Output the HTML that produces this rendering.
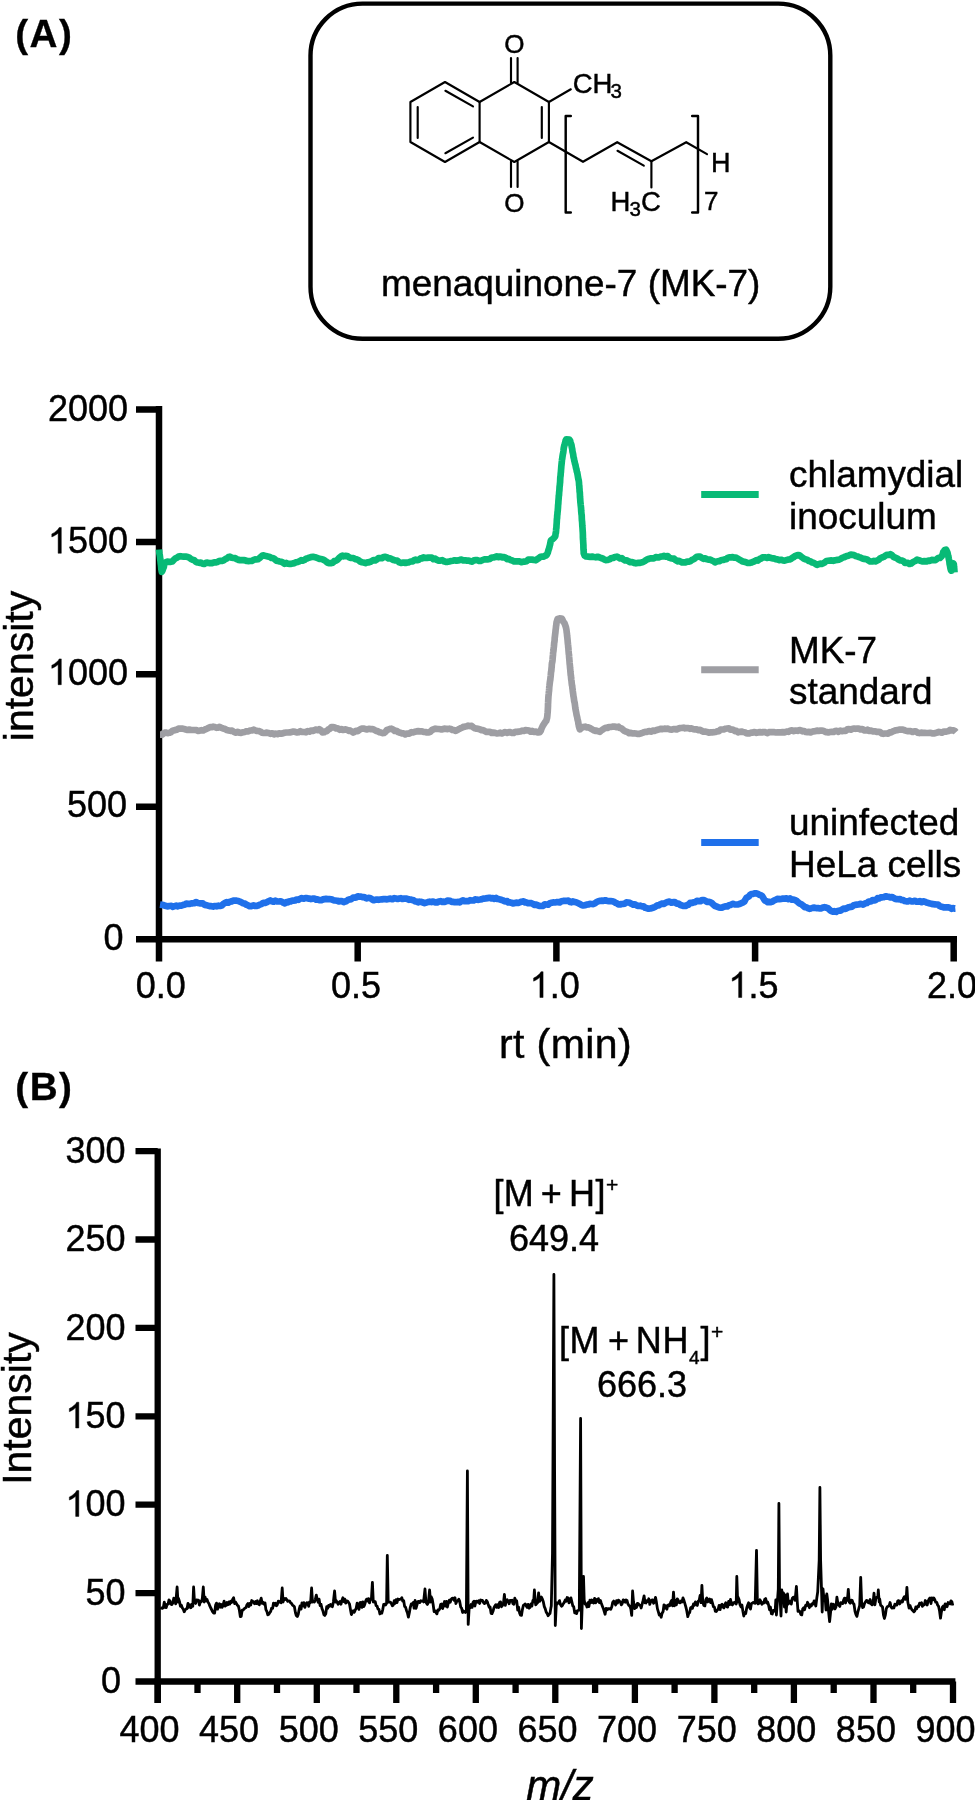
<!DOCTYPE html>
<html><head><meta charset="utf-8">
<style>
html,body{margin:0;padding:0;background:#fff;width:975px;height:1800px;overflow:hidden}
svg{display:block}
text{font-family:"Liberation Sans",sans-serif;fill:#000;stroke:#000;stroke-width:0.45px}
text.b{stroke-width:0.3px}
tspan.h{fill:none;stroke:none}
path.one{fill:#000;stroke:#000;stroke-width:0.45px}
svg{will-change:transform}

</style></head>
<body>
<svg width="975" height="1800" viewBox="0 0 975 1800">
<rect x="0" y="0" width="975" height="1800" fill="#fff"/>
<text class="b" id="tA" x="15.2" y="46.9" font-size="38.7" font-weight="bold" letter-spacing="1.5">(A)</text>
<rect x="310.5" y="3.6" width="519.8" height="335.1" rx="52" ry="52" fill="none" stroke="#000" stroke-width="4.4"/>
<g stroke="#000" stroke-width="2.15" fill="none" stroke-linecap="round" stroke-linejoin="round">
<path d="M445,82 L479.6,102 L479.6,142 L445,162 L410.4,142 L410.4,102 Z"/>
<path d="M479.6,102 L514.3,82 L548.9,102 L548.9,142 L514.3,162 L479.6,142"/>
<path d="M417.7,107 L417.7,138"/>
<path d="M445.4,90.8 L473,106.4"/>
<path d="M445.4,153.2 L473,137.6"/>
<path d="M541.8,107 L541.8,138"/>
<path d="M511,82.5 L511,58 M517.6,82.5 L517.6,58"/>
<path d="M511,161.5 L511,187 M517.6,161.5 L517.6,187"/>
<path d="M548.9,102 L570.8,89.3"/>
<path d="M548.9,142 L583,161.8 L617.2,142.2 L651.4,161.3 L686.2,142.2 L707,154.1"/>
<path d="M617.5,150.8 L643.8,165.6"/>
<path d="M651.4,161.3 L651.4,187.4"/>
<path stroke-width="2.45" d="M570.8,116 L565.7,116 L565.7,212.4 L570.8,212.4 M692.2,116 L698,116 L698,212.4 L692.2,212.4"/>
</g>
<g font-size="26">
<text id="tO1" x="514.3" y="52.5" text-anchor="middle">O</text>
<text id="tO2" x="514.3" y="211.5" text-anchor="middle">O</text>
<text id="tCH" x="572.7" y="93" font-size="27.5">CH</text>
<text id="tCH3" x="610.5" y="98" font-size="20.5">3</text>
<text id="tH3C1" x="610.5" y="211.2" font-size="27.5">H</text>
<text id="tH3C2" x="629.5" y="216.4" font-size="20.5">3</text>
<text id="tH3C3" x="641" y="211.2" font-size="27.5">C</text>
<text id="tH" x="711" y="172.4" font-size="27">H</text>
<text id="t7" x="704" y="209.7" font-size="26">7</text>
</g>
<text id="tmena" x="381" y="296.2" font-size="36.9">menaquinone-7 (MK-7)</text>

<g stroke="#000" stroke-width="6.5" fill="none" stroke-linecap="butt">
<path d="M159,406.1 L159,961.5"/>
<path d="M155.75,939.2 L957,939.2"/>
<path d="M136,409.4 L159,409.4 M136,541.9 L159,541.9 M136,674.3 L159,674.3 M136,806.8 L159,806.8 M136,939.2 L159,939.2"/>
<path d="M357.7,939.2 L357.7,961.5 M556.4,939.2 L556.4,961.5 M755.1,939.2 L755.1,961.5 M953.7,936 L953.7,961.5"/>
</g>
<g font-size="36" text-anchor="end">
<text id="y2000" x="128" y="420.5">2000</text>
<text id="y1500" x="128" y="553.3"><tspan class="h">1</tspan>500</text>
<text id="y1000" x="128" y="684.7"><tspan class="h">1</tspan>000</text>
<text id="y500" x="127" y="817.2">500</text>
<text id="y0" x="123.5" y="950">0</text>
</g>
<g font-size="36" text-anchor="middle">
<text id="x00" x="160.7" y="997.5">0.0</text>
<text id="x05" x="356" y="997.5">0.5</text>
<text id="x10" x="554.7" y="997.5"><tspan class="h">1</tspan>.0</text>
<text id="x15" x="753.4" y="997.5"><tspan class="h">1</tspan>.5</text>
<text id="x20" x="952" y="997.5">2.0</text>
</g>
<text id="trt" x="565.5" y="1057.6" font-size="41" letter-spacing="0.4" text-anchor="middle">rt (min)</text>
<text id="tint" transform="translate(32.5,666) rotate(-90)" font-size="41" text-anchor="middle">intensity</text>

<g fill="none" stroke-width="6.7" stroke-linejoin="round" stroke-linecap="butt">
<path d="M159.0,549.5 L159.2,551.5 L159.4,553.4 L159.7,554.7 L160.0,556.9 L160.2,559.0 L160.5,561.2 L160.7,563.4 L160.9,564.6 L161.1,566.3 L161.3,569.3 L161.6,570.5 L161.8,571.9 L162.6,570.2 L163.5,567.7 L163.9,566.7 L164.2,564.3 L164.7,563.5 L165.3,562.6 L167.1,561.7 L169.4,561.9 L170.8,561.8 L172.3,561.5 L173.9,559.7 L175.5,558.3 L177.0,557.7 L178.6,556.6 L180.2,556.2 L181.7,556.4 L183.7,556.6 L185.6,556.6 L187.8,557.1 L189.3,557.7 L190.9,559.0 L192.6,559.8 L194.3,560.2 L196.0,562.0 L197.6,562.4 L199.3,562.9 L200.9,562.6 L202.6,563.7 L204.2,564.0 L205.8,562.9 L207.5,562.7 L209.1,563.1 L210.8,563.0 L212.4,563.2 L214.0,562.3 L215.6,562.5 L217.2,562.1 L218.9,561.1 L220.6,560.9 L222.1,560.9 L223.7,560.3 L225.3,559.1 L226.9,558.4 L228.5,557.0 L229.9,556.7 L231.8,557.7 L233.5,558.0 L235.2,558.2 L237.0,559.2 L238.6,559.9 L240.2,560.2 L241.9,560.0 L243.6,560.1 L245.3,560.4 L246.9,561.0 L248.5,561.1 L250.1,561.0 L251.7,561.0 L253.5,560.1 L254.9,559.4 L256.4,559.5 L257.9,559.3 L259.5,558.1 L261.0,556.8 L262.4,555.6 L263.7,555.4 L266.0,556.1 L267.8,556.5 L269.9,557.0 L271.4,558.0 L273.0,558.0 L274.7,559.1 L276.3,560.7 L278.0,561.1 L279.6,561.5 L281.3,561.8 L283.0,562.6 L284.6,563.8 L286.3,562.9 L287.9,563.7 L289.6,563.9 L291.2,563.8 L292.9,563.4 L294.5,563.1 L296.1,562.3 L297.8,561.9 L299.4,561.3 L301.1,560.2 L302.7,560.7 L304.4,560.0 L306.1,558.7 L307.8,558.2 L309.4,557.6 L310.9,557.1 L313.1,556.8 L315.0,557.2 L317.0,557.9 L318.5,558.5 L320.0,559.0 L321.5,559.0 L323.2,559.7 L324.6,560.3 L326.1,561.5 L327.7,562.7 L329.5,563.2 L331.4,563.1 L332.8,562.7 L334.3,561.1 L335.9,560.8 L337.6,559.7 L339.2,557.8 L340.8,556.5 L342.3,555.7 L343.7,556.3 L345.7,555.9 L347.5,556.0 L349.2,557.4 L350.6,557.9 L351.9,558.0 L353.5,558.1 L355.3,559.1 L356.6,559.3 L358.3,560.0 L360.1,561.6 L362.0,562.2 L363.8,562.6 L365.5,563.1 L367.3,562.4 L368.9,562.3 L370.5,561.8 L372.1,560.9 L373.7,560.0 L375.3,560.5 L376.9,559.5 L378.5,558.2 L380.1,558.1 L381.9,558.2 L383.5,557.1 L385.1,556.9 L386.9,557.2 L388.6,558.5 L390.4,558.4 L392.2,559.4 L393.8,560.1 L395.4,560.5 L397.1,560.6 L398.8,562.1 L400.4,562.8 L402.0,562.8 L403.5,562.5 L405.4,563.0 L407.2,562.5 L408.9,562.3 L410.7,561.5 L412.7,561.3 L414.1,560.2 L415.6,559.7 L417.2,560.2 L418.8,559.8 L420.4,558.4 L422.0,558.4 L423.5,557.4 L425.0,557.9 L426.8,557.9 L428.5,557.6 L430.1,557.6 L431.8,557.6 L433.5,559.2 L435.3,558.7 L437.0,559.9 L438.7,560.7 L440.4,560.6 L442.2,560.2 L444.0,561.3 L445.8,561.9 L447.6,561.8 L449.4,561.4 L451.1,561.0 L452.9,560.7 L454.6,560.3 L456.4,560.7 L458.1,560.4 L459.9,559.9 L461.7,559.6 L463.4,560.5 L465.2,560.3 L466.9,560.6 L468.7,560.5 L470.4,561.3 L472.2,561.6 L474.0,560.3 L475.7,560.1 L477.5,560.1 L479.2,561.0 L481.0,560.8 L482.7,560.0 L484.5,559.3 L486.3,559.4 L488.1,559.3 L489.9,558.9 L491.7,557.5 L493.4,557.5 L495.2,557.0 L496.8,556.4 L498.6,557.1 L500.3,556.5 L501.9,557.4 L503.5,557.1 L505.2,557.5 L507.0,559.1 L508.7,558.9 L510.4,560.0 L512.3,560.5 L514.1,561.4 L516.0,561.3 L517.7,561.4 L519.4,561.4 L521.3,562.1 L523.2,561.7 L525.0,561.6 L526.7,561.2 L528.2,559.7 L529.6,559.7 L531.6,559.5 L533.0,559.9 L534.4,560.0 L535.9,560.3 L537.3,559.1 L538.9,558.1 L540.4,556.9 L542.1,556.7 L543.8,556.6 L545.1,555.7 L546.6,555.2 L547.8,552.6 L548.2,551.0 L548.6,549.6 L549.0,548.7 L549.5,546.6 L549.9,545.2 L550.4,542.8 L550.8,540.7 L551.3,540.0 L552.7,539.1 L554.1,537.8 L555.3,536.2 L555.5,534.4 L555.7,533.0 L555.9,532.6 L556.1,530.2 L556.2,528.5 L556.4,527.9 L556.5,525.6 L556.7,523.1 L556.8,521.0 L556.9,519.1 L557.1,517.9 L557.2,515.3 L557.4,514.3 L557.5,512.3 L557.7,511.4 L557.8,509.9 L558.0,507.3 L558.1,505.2 L558.3,503.6 L558.4,501.4 L558.5,500.2 L558.7,497.8 L558.8,495.7 L559.0,495.4 L559.1,493.1 L559.2,491.8 L559.4,490.1 L559.5,488.3 L559.6,486.4 L559.8,485.4 L559.9,483.9 L560.1,482.2 L560.2,479.3 L560.3,477.3 L560.5,476.2 L560.6,475.4 L560.7,473.4 L560.9,472.0 L561.0,470.4 L561.2,468.0 L561.3,466.5 L561.5,464.6 L561.7,462.7 L561.9,460.8 L562.0,459.4 L562.2,459.0 L562.4,457.1 L562.6,455.9 L562.9,454.1 L563.2,452.8 L563.5,450.4 L563.7,448.4 L564.0,446.8 L564.3,445.3 L564.6,444.9 L565.1,442.9 L565.6,440.6 L566.2,439.3 L569.4,439.6 L570.1,440.8 L570.6,442.5 L571.2,444.3 L571.5,445.3 L571.8,447.2 L572.2,448.9 L572.5,451.6 L572.9,453.1 L573.2,454.7 L573.5,457.1 L573.9,458.3 L574.2,460.4 L574.6,461.6 L575.0,463.7 L575.4,464.7 L575.7,466.3 L576.1,468.3 L576.4,468.9 L576.8,471.5 L577.2,472.4 L577.6,474.7 L578.0,477.1 L578.3,478.9 L578.6,480.0 L578.8,480.9 L579.0,482.8 L579.1,485.1 L579.3,486.0 L579.4,488.3 L579.5,489.0 L579.6,491.6 L579.8,492.2 L579.9,494.1 L580.0,496.8 L580.2,498.8 L580.3,500.8 L580.4,502.3 L580.6,503.7 L580.7,505.1 L580.8,505.9 L581.0,507.6 L581.1,508.9 L581.2,511.2 L581.4,513.1 L581.5,514.2 L581.7,515.4 L581.8,518.4 L581.9,520.3 L582.1,521.7 L582.2,523.4 L582.3,525.6 L582.4,526.7 L582.5,528.1 L582.6,529.6 L582.7,531.2 L582.8,532.6 L582.9,535.2 L582.9,537.0 L583.0,539.1 L583.1,540.2 L583.2,542.2 L583.3,543.7 L583.4,545.3 L583.4,547.0 L583.5,549.4 L583.6,550.5 L583.7,551.6 L583.7,553.0 L583.8,553.5 L584.7,555.7 L586.1,556.5 L588.1,556.6 L590.2,556.8 L592.2,556.6 L594.0,557.0 L595.8,557.3 L597.6,556.8 L599.3,557.3 L601.0,558.0 L602.6,558.5 L604.2,559.4 L605.6,560.1 L607.7,560.0 L610.0,559.1 L611.4,558.0 L613.1,558.0 L614.9,557.0 L616.8,556.7 L618.5,557.4 L620.1,558.5 L621.8,558.2 L623.4,559.5 L625.0,560.5 L626.7,560.4 L628.5,561.2 L630.3,562.2 L632.2,562.2 L634.0,562.9 L635.9,563.3 L637.7,562.9 L639.4,562.9 L641.2,562.5 L643.1,562.0 L645.1,560.8 L646.7,559.6 L648.4,559.0 L650.3,558.4 L652.1,558.4 L653.9,558.4 L655.7,557.1 L657.4,557.4 L659.2,557.3 L660.8,556.6 L662.4,556.5 L664.0,555.9 L665.8,556.6 L667.7,556.1 L669.1,557.6 L670.7,558.2 L672.4,558.6 L674.1,558.7 L675.8,560.2 L677.5,561.3 L679.1,560.8 L680.7,561.8 L682.0,562.4 L684.0,562.4 L685.8,562.3 L687.3,561.5 L688.7,561.6 L690.3,561.3 L691.9,559.9 L693.5,559.4 L695.1,558.2 L696.7,556.9 L698.5,556.7 L700.1,556.5 L701.8,557.9 L703.6,558.9 L705.4,558.3 L707.1,559.3 L708.7,559.6 L710.4,559.7 L711.9,560.5 L713.4,561.1 L715.0,562.3 L716.9,561.5 L718.3,561.2 L719.8,561.1 L721.4,560.0 L723.0,560.0 L724.7,559.4 L726.3,559.2 L727.8,557.8 L729.2,557.3 L731.1,557.4 L732.7,557.0 L734.2,557.6 L735.7,557.5 L737.4,558.4 L739.0,559.3 L740.7,560.3 L742.4,561.4 L744.2,561.7 L746.0,562.2 L747.7,563.0 L749.5,563.0 L751.3,562.6 L753.1,561.8 L754.8,561.1 L756.4,560.2 L757.9,560.6 L759.7,559.0 L761.1,558.5 L762.5,557.4 L764.1,557.4 L765.5,557.3 L767.0,557.9 L768.6,557.1 L770.4,557.8 L772.3,558.4 L773.9,558.4 L775.6,559.1 L777.4,559.4 L779.3,560.1 L781.1,559.8 L782.9,560.4 L784.6,560.6 L786.2,560.1 L787.9,559.6 L789.6,559.5 L791.1,558.7 L792.6,557.6 L793.8,557.1 L794.9,556.2 L797.6,555.1 L798.8,555.1 L800.2,555.8 L801.8,557.1 L803.5,558.4 L805.3,559.3 L807.1,559.7 L808.6,560.9 L810.3,561.2 L812.0,562.4 L813.6,562.7 L815.3,563.8 L817.0,564.8 L818.5,564.2 L820.2,563.7 L821.8,563.8 L823.4,563.2 L824.9,562.3 L826.4,561.0 L828.0,560.8 L829.8,560.6 L831.5,560.4 L833.2,560.8 L835.2,560.2 L837.4,559.9 L838.8,559.7 L840.4,559.0 L842.0,557.9 L843.7,557.4 L845.4,556.6 L847.2,555.9 L849.0,555.4 L850.8,554.7 L852.6,554.9 L854.1,555.1 L855.7,556.0 L857.4,556.4 L859.1,557.1 L860.8,557.7 L862.5,558.5 L864.1,558.9 L865.7,559.1 L867.1,559.5 L868.5,560.5 L869.7,561.3 L872.2,561.5 L873.9,560.9 L875.4,561.4 L877.3,560.5 L878.7,559.8 L880.3,558.2 L881.9,557.5 L883.6,556.9 L885.3,555.7 L887.0,554.8 L888.7,554.9 L890.3,554.2 L892.0,555.2 L893.6,556.9 L895.3,557.7 L896.9,558.3 L898.5,559.5 L900.0,560.3 L901.7,560.5 L903.4,561.1 L905.0,562.9 L906.5,562.9 L908.0,562.9 L909.5,564.0 L911.1,563.6 L912.6,562.4 L914.0,561.5 L915.5,560.9 L917.1,559.6 L918.8,560.1 L920.6,560.8 L922.4,561.5 L924.4,561.1 L926.6,561.4 L928.1,560.7 L929.9,560.8 L931.7,559.9 L933.5,560.2 L935.4,560.1 L937.1,558.8 L938.6,557.8 L939.9,558.0 L941.4,556.6 L942.5,554.9 L943.3,551.9 L943.9,551.2 L944.6,550.2 L946.1,549.6 L947.5,552.6 L947.8,554.3 L948.2,556.0 L948.5,557.0 L948.9,559.4 L949.3,560.9 L949.6,564.0 L950.0,565.6 L950.4,568.0 L950.7,569.4 L951.0,570.4 L951.3,570.6 L952.0,570.3 L952.6,567.2 L953.1,564.1 L953.5,563.6 L953.8,564.1 L954.0,566.5 L954.2,568.2 L954.4,570.8 L954.5,572.4" stroke="#08ba76"/>
<path d="M160.0,734.7 L162.2,734.7 L163.7,733.2 L165.6,732.5 L167.6,733.1 L169.4,732.8 L170.9,732.2 L172.3,730.9 L173.7,730.4 L175.5,729.9 L177.0,729.6 L178.5,728.7 L180.3,728.6 L182.1,728.5 L183.9,728.9 L185.8,729.5 L187.5,729.9 L189.2,729.7 L191.0,729.9 L192.9,730.0 L194.7,730.0 L196.4,730.1 L198.1,730.8 L199.9,730.6 L201.6,730.2 L203.3,730.5 L204.9,729.5 L206.6,728.9 L208.3,728.0 L209.9,727.2 L211.5,727.2 L213.2,726.7 L214.8,727.0 L216.5,727.8 L218.1,727.6 L219.6,726.8 L221.5,727.9 L223.3,728.5 L225.0,729.0 L226.8,729.9 L228.8,730.4 L230.4,730.8 L232.1,730.6 L233.9,731.9 L235.7,732.6 L237.6,731.8 L239.4,732.6 L241.2,732.8 L243.0,732.3 L244.8,731.9 L246.6,731.3 L248.4,731.4 L250.1,730.5 L251.9,730.4 L253.5,729.7 L255.3,730.4 L257.1,731.0 L258.7,731.0 L260.4,731.6 L262.0,732.7 L263.7,733.0 L265.4,732.9 L267.1,732.7 L268.7,733.0 L270.4,733.8 L272.2,733.3 L274.0,734.3 L275.7,733.6 L277.4,734.1 L279.1,733.3 L280.9,733.7 L282.7,733.4 L284.5,732.8 L286.3,732.5 L288.1,732.5 L289.8,732.4 L291.6,731.9 L293.3,731.5 L295.1,731.8 L296.8,732.5 L298.6,732.2 L300.4,731.2 L302.2,732.0 L304.1,732.0 L305.9,732.3 L307.7,731.2 L309.4,731.6 L310.9,730.6 L312.9,730.9 L314.6,730.1 L316.2,729.5 L317.7,730.1 L319.1,729.2 L321.0,730.4 L322.5,732.4 L324.2,732.2 L325.5,731.3 L326.9,731.1 L328.3,729.5 L329.9,728.7 L331.4,727.1 L332.9,727.2 L334.5,727.3 L336.1,728.4 L337.8,728.3 L339.6,729.8 L341.3,729.0 L343.1,730.0 L345.1,729.4 L346.9,729.7 L348.6,730.8 L349.9,730.4 L351.5,731.3 L353.2,732.5 L354.5,731.9 L356.0,730.8 L357.8,731.2 L359.7,729.7 L361.6,728.6 L363.5,728.6 L365.2,729.0 L367.0,729.5 L368.8,728.8 L370.7,729.1 L372.5,729.0 L374.2,729.8 L375.8,730.7 L377.7,731.3 L379.5,732.2 L381.1,732.6 L382.6,733.1 L384.0,733.0 L385.5,731.9 L386.7,730.2 L388.1,729.6 L390.1,728.9 L391.4,728.7 L393.0,729.5 L394.7,731.0 L396.5,730.9 L398.3,732.1 L400.1,732.7 L401.9,733.4 L403.5,733.3 L405.2,734.4 L406.8,733.6 L408.4,733.7 L409.9,733.2 L411.5,732.2 L413.1,732.4 L414.7,731.8 L416.4,731.4 L418.3,731.2 L420.1,731.3 L422.0,731.3 L423.7,732.0 L425.4,732.0 L427.0,732.5 L428.9,732.3 L430.4,731.8 L431.9,730.1 L433.4,729.4 L435.3,728.7 L436.9,728.9 L438.6,729.0 L440.5,729.3 L442.4,729.3 L444.3,728.7 L446.0,728.8 L447.6,729.1 L449.4,728.7 L451.0,729.0 L452.4,730.0 L454.0,730.1 L455.8,730.9 L457.2,730.1 L458.6,729.2 L460.2,728.4 L461.8,727.7 L463.5,726.9 L465.1,726.6 L466.6,726.2 L468.1,725.7 L469.9,726.1 L471.7,725.9 L473.3,727.3 L475.0,728.3 L476.6,728.7 L478.3,728.8 L479.9,729.4 L481.5,730.1 L483.1,730.1 L484.7,731.0 L486.5,731.9 L488.6,731.9 L490.0,731.8 L491.6,732.9 L493.3,732.6 L495.0,732.8 L496.8,733.5 L498.6,733.2 L500.3,732.7 L502.0,733.5 L503.6,732.8 L505.0,732.1 L507.1,732.8 L508.9,732.2 L510.5,732.2 L512.1,733.0 L513.7,732.9 L515.3,731.8 L517.0,731.9 L518.8,731.6 L520.5,731.4 L522.3,730.7 L523.9,730.9 L525.5,730.1 L527.3,730.3 L529.0,730.6 L530.6,731.7 L532.1,730.9 L533.6,731.8 L536.0,731.7 L538.1,732.5 L539.8,732.2 L540.8,730.7 L541.6,728.3 L542.3,726.8 L543.2,725.1 L544.2,723.6 L545.3,721.9 L546.2,721.0 L546.9,718.5 L547.1,717.8 L547.3,716.2 L547.5,713.8 L547.6,712.9 L547.7,711.7 L547.8,710.1 L547.9,708.1 L548.0,706.1 L548.0,704.3 L548.1,703.0 L548.2,700.6 L548.3,698.9 L548.4,697.0 L548.5,695.8 L548.7,694.0 L548.8,692.7 L549.0,691.1 L549.2,688.7 L549.3,686.7 L549.5,685.4 L549.7,683.5 L549.9,682.0 L550.1,680.7 L550.3,679.6 L550.5,677.5 L550.7,676.1 L550.9,673.4 L551.1,671.7 L551.3,671.0 L551.5,668.4 L551.7,666.8 L551.8,664.7 L552.0,662.9 L552.2,662.5 L552.4,661.3 L552.6,659.3 L552.8,656.6 L553.0,654.8 L553.1,652.9 L553.3,651.7 L553.5,650.2 L553.7,648.1 L553.9,646.4 L554.1,644.1 L554.2,642.8 L554.4,641.9 L554.6,640.3 L554.7,637.8 L554.9,636.7 L555.0,635.7 L555.2,633.9 L555.3,633.5 L555.6,630.1 L555.9,628.0 L556.1,625.8 L556.3,625.1 L556.4,623.8 L556.6,622.3 L557.6,618.9 L559.5,618.4 L561.8,618.5 L562.6,620.1 L563.5,622.1 L564.4,622.9 L565.1,624.9 L565.8,626.9 L566.1,628.1 L566.4,629.6 L566.6,631.2 L566.7,632.3 L566.9,633.4 L567.1,635.8 L567.3,637.3 L567.6,640.4 L567.7,641.5 L567.8,642.9 L568.0,644.5 L568.1,645.1 L568.2,646.9 L568.4,648.2 L568.5,650.2 L568.7,652.5 L568.8,653.9 L569.0,654.6 L569.1,656.7 L569.3,659.0 L569.5,661.2 L569.6,662.8 L569.8,664.8 L569.9,665.4 L570.1,668.2 L570.3,669.9 L570.4,671.4 L570.6,673.3 L570.7,675.0 L570.9,675.3 L571.1,677.9 L571.3,679.9 L571.5,680.9 L571.7,683.2 L571.9,684.9 L572.2,686.0 L572.4,688.3 L572.6,689.2 L572.8,691.2 L573.0,692.7 L573.2,694.0 L573.4,695.9 L573.7,697.4 L573.9,698.6 L574.2,701.2 L574.4,701.7 L574.7,703.0 L575.0,705.4 L575.3,707.9 L575.6,709.7 L576.0,711.7 L576.3,713.2 L576.6,715.1 L577.0,716.4 L577.3,717.9 L577.6,719.7 L577.9,720.6 L578.2,721.9 L578.5,724.2 L578.7,724.8 L578.9,726.4 L579.8,729.4 L581.2,728.2 L583.0,727.1 L585.1,726.7 L586.8,727.4 L588.6,727.4 L590.4,728.3 L592.2,729.4 L593.8,730.3 L595.3,730.8 L596.8,730.7 L598.4,731.4 L599.8,731.8 L601.2,730.5 L602.7,729.6 L604.2,728.5 L605.6,727.9 L607.3,728.0 L609.0,727.0 L610.7,727.0 L612.3,726.7 L614.2,726.6 L616.0,727.1 L618.5,726.7 L619.7,728.0 L621.1,728.2 L622.6,729.4 L624.1,730.7 L625.8,731.6 L627.4,732.0 L629.1,733.2 L630.8,732.8 L632.5,733.5 L634.2,733.4 L636.0,733.5 L637.8,733.9 L639.6,733.8 L641.5,733.3 L643.3,732.5 L645.1,731.9 L646.7,732.0 L648.2,731.4 L649.7,731.1 L651.3,731.7 L652.8,730.5 L654.4,730.9 L656.0,730.2 L657.7,729.7 L659.5,729.3 L661.1,728.8 L662.7,729.1 L664.5,728.7 L666.3,728.9 L668.1,728.7 L669.9,729.5 L671.7,729.7 L673.4,729.1 L675.1,729.1 L676.6,729.5 L678.0,728.7 L680.2,728.0 L682.0,727.9 L683.6,727.7 L685.1,728.3 L686.6,728.1 L688.2,728.0 L689.9,728.8 L691.6,728.3 L693.2,729.2 L694.9,729.4 L696.7,729.4 L698.5,730.2 L700.1,729.9 L701.7,730.9 L703.4,731.7 L705.1,731.5 L706.9,731.9 L708.8,732.6 L710.8,732.4 L712.3,732.3 L713.9,732.2 L715.5,732.0 L717.2,731.3 L718.9,731.1 L720.6,729.7 L722.3,729.5 L724.0,729.3 L725.6,728.7 L727.2,728.5 L728.9,728.3 L730.4,729.6 L732.0,729.5 L733.5,730.0 L735.0,731.2 L736.5,730.9 L738.1,732.3 L739.7,731.8 L741.5,731.6 L743.0,732.0 L744.6,732.2 L746.2,733.1 L747.8,733.4 L749.5,733.3 L751.2,732.7 L752.9,732.6 L754.7,732.1 L756.5,732.8 L758.2,732.4 L760.0,732.1 L761.7,732.5 L763.4,732.0 L765.2,732.1 L767.1,733.1 L769.0,732.2 L770.8,732.0 L772.6,732.1 L774.4,732.2 L776.1,732.5 L777.7,732.3 L779.2,732.4 L780.5,732.3 L782.7,732.1 L784.5,732.4 L785.9,731.9 L787.2,731.5 L788.5,731.8 L790.0,730.7 L791.9,730.3 L793.8,731.1 L795.7,730.5 L797.6,730.8 L799.5,730.0 L801.1,730.4 L802.6,731.3 L804.1,731.1 L805.7,731.9 L807.3,732.1 L809.0,731.8 L810.5,732.5 L812.1,731.7 L813.7,731.3 L815.3,731.2 L817.0,730.5 L818.7,730.9 L820.4,730.7 L821.9,730.7 L823.5,730.8 L825.0,731.7 L826.6,732.2 L828.3,732.4 L830.0,732.0 L831.8,731.8 L833.6,731.9 L835.2,731.1 L836.8,730.8 L838.5,731.8 L840.3,730.6 L842.0,731.2 L843.8,730.8 L845.6,730.8 L847.3,729.4 L849.0,729.1 L850.7,729.7 L852.5,728.7 L854.1,728.5 L855.8,728.8 L857.4,728.6 L859.0,728.6 L860.6,729.5 L862.3,729.0 L864.1,730.3 L865.9,730.4 L867.4,729.7 L868.8,730.9 L870.4,730.5 L872.0,731.0 L873.5,731.5 L875.2,731.3 L876.8,732.0 L878.4,731.8 L880.1,732.1 L881.7,733.4 L883.3,733.8 L884.9,733.5 L886.5,733.5 L888.1,733.7 L889.7,732.4 L891.2,732.3 L892.8,731.4 L894.4,730.8 L896.0,730.3 L897.6,730.1 L899.2,729.6 L900.7,729.5 L902.3,729.6 L903.9,730.0 L905.6,730.6 L907.3,731.1 L909.1,731.1 L910.8,731.1 L912.5,732.0 L914.2,731.4 L915.9,731.4 L917.6,732.7 L919.4,733.1 L921.1,732.7 L922.8,732.9 L924.6,732.8 L926.4,733.0 L928.2,733.0 L930.1,732.8 L932.0,733.3 L933.8,733.4 L935.6,732.9 L937.3,732.5 L938.9,731.9 L940.4,732.3 L941.8,732.7 L944.0,731.5 L945.8,731.6 L947.4,731.3 L948.8,731.0 L950.1,729.9 L951.3,730.3 L953.4,730.4 L955.0,731.1 L956.0,732.2" stroke="#9e9ea3"/>
<path d="M160.0,904.6 L162.2,904.9 L163.6,905.1 L165.3,905.8 L167.3,906.4 L169.4,906.0 L171.4,905.8 L173.0,906.8 L174.6,906.1 L176.2,905.6 L177.9,906.3 L179.7,905.5 L181.7,905.6 L183.1,904.9 L184.7,904.7 L186.3,903.6 L188.0,903.8 L189.7,903.9 L191.4,903.3 L193.0,903.3 L194.6,903.1 L196.0,902.1 L197.9,903.0 L199.7,903.3 L201.3,903.4 L202.9,903.4 L204.5,904.9 L206.3,905.1 L207.9,905.6 L209.6,906.1 L211.3,906.2 L213.1,906.6 L214.9,906.0 L216.7,906.3 L218.6,905.7 L220.1,906.0 L221.7,905.6 L223.4,903.9 L225.1,902.9 L226.8,902.2 L228.4,902.7 L230.0,901.7 L231.6,901.4 L233.0,900.7 L234.9,900.7 L236.7,900.7 L238.4,901.0 L239.9,901.7 L241.5,902.3 L243.2,903.3 L244.8,903.6 L246.3,904.6 L247.8,905.3 L249.5,906.1 L251.3,906.1 L253.5,905.3 L254.9,905.9 L256.4,906.0 L258.0,905.6 L259.8,904.6 L261.5,904.1 L263.4,902.8 L265.2,902.9 L267.0,902.2 L268.7,901.2 L270.3,900.4 L271.9,901.2 L273.7,901.7 L275.4,900.6 L277.1,901.5 L278.7,901.5 L280.3,901.3 L281.8,901.7 L283.3,902.7 L284.8,903.3 L286.3,902.1 L287.9,902.4 L289.3,901.3 L290.7,901.5 L292.1,900.6 L293.5,900.7 L295.0,900.5 L296.7,899.5 L298.6,899.8 L300.1,898.8 L301.7,898.1 L303.4,898.7 L305.2,898.1 L307.1,898.2 L309.0,898.6 L310.9,899.1 L312.7,898.7 L314.5,898.5 L316.2,899.7 L317.7,899.3 L319.1,900.1 L321.4,900.2 L323.1,899.4 L324.6,899.1 L326.0,898.9 L327.6,899.1 L329.4,899.1 L330.8,899.3 L332.3,899.6 L333.8,900.5 L335.4,900.5 L337.0,900.7 L338.7,901.4 L340.4,901.1 L342.0,901.1 L343.7,902.1 L345.2,901.5 L346.7,901.0 L348.3,899.7 L349.8,899.4 L351.4,899.1 L353.0,897.7 L354.6,897.7 L356.2,897.4 L357.8,896.3 L359.4,896.7 L361.0,896.6 L362.5,897.1 L363.9,897.0 L365.4,897.8 L366.9,898.4 L368.5,897.9 L370.1,898.0 L371.9,899.2 L373.7,900.2 L375.8,899.6 L377.2,899.6 L378.7,899.8 L380.2,899.5 L381.9,899.3 L383.6,899.1 L385.3,899.1 L387.1,899.3 L388.8,898.9 L390.6,898.7 L392.4,899.2 L394.2,898.2 L395.9,898.6 L397.6,899.0 L399.3,898.5 L400.9,898.2 L402.4,899.0 L404.2,898.6 L405.9,898.5 L407.5,899.0 L409.0,899.8 L410.6,899.5 L412.1,899.9 L413.6,900.3 L415.1,901.5 L416.6,901.5 L418.1,902.3 L419.7,901.7 L421.3,901.9 L423.0,902.5 L424.6,903.1 L426.2,902.6 L427.9,902.1 L429.7,901.7 L431.5,902.1 L433.3,901.6 L435.2,902.3 L437.0,902.5 L438.7,901.5 L440.5,901.2 L442.1,901.8 L443.7,901.7 L445.1,901.8 L446.4,901.2 L447.6,900.6 L450.2,900.8 L451.7,902.0 L452.7,901.8 L453.9,902.1 L455.8,902.2 L457.1,902.1 L458.4,901.9 L459.8,902.4 L461.3,901.2 L462.8,900.3 L464.5,901.2 L466.3,901.2 L468.1,901.2 L470.1,900.2 L472.2,900.5 L473.6,900.5 L475.1,899.4 L476.8,899.7 L478.5,899.8 L480.2,899.5 L482.1,899.1 L483.9,898.6 L485.7,898.4 L487.6,898.1 L489.4,897.8 L491.2,898.4 L492.9,898.1 L494.5,898.9 L496.1,898.0 L497.5,899.0 L498.8,899.1 L501.0,899.8 L502.9,900.4 L504.5,901.1 L505.9,901.4 L507.2,901.1 L508.4,902.5 L509.8,902.4 L511.2,902.7 L512.9,903.4 L514.6,903.2 L516.3,902.6 L517.9,903.0 L519.7,902.4 L521.5,901.7 L523.5,901.4 L525.0,902.4 L526.5,902.4 L528.1,903.2 L529.8,903.1 L531.4,903.2 L533.1,904.0 L534.8,905.0 L536.5,904.6 L538.2,905.5 L539.9,906.0 L541.5,906.0 L543.2,905.8 L544.8,904.3 L546.5,904.5 L548.1,904.7 L549.8,903.2 L551.5,902.8 L553.1,902.4 L554.8,902.5 L556.4,902.2 L558.1,902.1 L559.8,902.4 L561.5,901.3 L563.3,900.9 L565.0,900.8 L566.7,900.8 L568.3,900.7 L569.9,902.0 L571.4,902.3 L572.8,901.4 L574.9,902.1 L576.7,902.5 L578.3,903.2 L579.9,904.0 L581.5,905.1 L583.1,905.5 L584.8,905.2 L586.5,904.7 L588.2,904.5 L589.9,903.9 L591.6,904.0 L593.3,904.1 L595.0,903.2 L596.7,902.0 L598.4,901.2 L600.2,900.8 L601.9,900.7 L603.6,900.8 L605.4,900.3 L607.2,900.9 L609.0,901.1 L610.7,901.1 L612.3,901.3 L613.8,901.7 L615.6,902.8 L617.0,903.3 L618.4,904.4 L620.0,904.5 L621.5,904.0 L623.0,903.9 L624.7,903.7 L626.4,902.4 L628.2,902.5 L629.8,902.8 L631.5,903.8 L633.2,904.6 L635.0,904.4 L636.8,905.5 L638.5,906.0 L640.2,905.7 L641.9,906.3 L643.6,906.4 L645.3,907.8 L647.0,908.2 L648.7,908.7 L650.4,908.5 L652.1,908.0 L653.7,907.5 L655.4,906.7 L657.2,905.3 L659.0,905.3 L660.7,904.1 L662.4,903.5 L664.1,903.9 L665.9,902.6 L667.7,902.0 L669.5,901.6 L671.3,902.7 L673.1,902.2 L674.9,902.1 L676.8,903.7 L678.6,903.6 L680.4,905.0 L682.1,905.5 L683.6,905.9 L685.5,906.0 L687.1,905.1 L688.6,904.7 L690.1,902.9 L691.8,903.0 L693.4,902.4 L695.1,902.2 L696.9,900.8 L698.7,901.1 L700.4,901.2 L702.0,900.0 L703.8,900.1 L705.4,900.8 L706.9,901.9 L708.5,901.8 L710.3,902.2 L711.7,902.9 L713.1,904.3 L714.5,905.7 L716.0,906.2 L717.5,906.9 L719.0,907.5 L720.5,907.7 L722.2,907.7 L723.9,906.7 L725.6,906.4 L727.3,906.5 L729.0,905.2 L730.8,904.9 L732.6,903.9 L734.5,904.3 L736.4,904.5 L738.2,904.4 L740.1,903.8 L741.8,903.0 L743.1,902.4 L744.3,901.7 L745.4,899.5 L746.6,897.7 L747.7,897.1 L748.9,896.4 L750.0,895.0 L751.2,894.1 L752.8,894.0 L754.5,893.3 L756.1,893.4 L757.7,893.7 L759.3,894.8 L760.7,895.2 L762.2,896.1 L763.4,898.2 L764.7,900.4 L766.0,901.0 L767.7,902.1 L769.1,901.9 L770.7,902.2 L772.3,901.6 L774.0,900.5 L775.8,899.7 L777.6,898.9 L779.5,899.2 L781.2,899.0 L782.9,898.6 L784.7,898.6 L786.5,898.4 L788.3,899.1 L790.1,898.4 L791.9,899.7 L793.7,899.7 L795.1,900.2 L796.5,900.8 L797.9,902.1 L799.2,903.2 L800.6,903.9 L802.0,904.7 L803.4,905.9 L804.8,907.1 L806.3,907.3 L807.8,908.1 L809.4,908.8 L811.0,908.4 L812.7,907.9 L814.5,907.6 L816.2,908.1 L818.0,908.1 L819.7,908.5 L821.3,908.4 L822.9,907.5 L824.4,907.2 L826.3,907.6 L827.9,908.1 L829.4,909.6 L830.9,910.8 L832.5,911.7 L834.2,911.2 L836.2,911.8 L837.5,911.0 L839.0,910.7 L840.6,910.7 L842.2,909.4 L843.9,908.5 L845.6,908.9 L847.3,907.9 L849.0,907.2 L850.6,906.9 L852.2,906.6 L853.7,905.2 L855.0,904.9 L857.0,904.6 L858.7,904.5 L860.2,903.9 L861.6,904.1 L863.1,904.6 L864.8,903.6 L866.8,903.1 L868.1,902.0 L869.5,901.5 L871.0,901.5 L872.6,900.1 L874.2,900.4 L875.8,900.0 L877.5,898.2 L879.1,898.5 L880.8,897.4 L882.5,897.3 L884.1,897.1 L885.7,896.3 L887.3,896.6 L888.9,896.8 L890.4,897.4 L892.0,897.0 L893.6,897.9 L895.2,898.9 L896.7,899.1 L898.3,899.3 L899.9,899.1 L901.5,899.9 L903.0,900.1 L904.6,900.9 L906.3,901.3 L908.0,901.3 L909.7,900.7 L911.4,901.3 L913.1,901.4 L914.9,900.8 L916.6,901.7 L918.3,901.7 L920.0,901.0 L921.7,902.1 L923.4,901.4 L925.0,901.7 L926.6,902.6 L928.3,903.0 L929.9,903.4 L931.6,903.9 L933.2,904.2 L934.8,904.3 L936.4,904.5 L938.0,904.6 L939.5,905.9 L940.9,906.7 L942.3,906.8 L944.3,907.5 L946.3,907.3 L948.2,907.4 L950.0,907.7 L951.6,908.8 L953.1,908.0 L954.3,908.6 L955.3,908.5" stroke="#1f70ea"/>
</g>
<g stroke-width="7" fill="none">
<path d="M701.2,494.6 L758.7,494.6" stroke="#08ba76"/>
<path d="M701.2,669.8 L758.7,669.8" stroke="#9e9ea3"/>
<path d="M701.2,842.5 L758.7,842.5" stroke="#1f70ea"/>
</g>
<g font-size="36.9">
<text id="l1" x="789" y="487">chlamydial</text>
<text id="l2" x="789" y="529">inoculum</text>
<text id="l3" x="789" y="663">MK-7</text>
<text id="l4" x="789" y="704">standard</text>
<text id="l5" x="789" y="835">uninfected</text>
<text id="l6" x="789" y="877">HeLa cells</text>
</g>

<text class="b" id="tB" x="15.3" y="1099.6" font-size="38.7" font-weight="bold" letter-spacing="1.5">(B)</text>
<g stroke="#000" stroke-width="6.3" fill="none" stroke-linecap="butt">
<path d="M157.7,1148.5 L157.7,1703"/>
<path d="M154.6,1681.5 L955.4,1681.5"/>
<path d="M135.5,1681.5 L157.7,1681.5 M135.5,1593.1 L157.7,1593.1 M135.5,1504.7 L157.7,1504.7 M135.5,1416.3 L157.7,1416.3 M135.5,1327.9 L157.7,1327.9 M135.5,1239.5 L157.7,1239.5 M135.5,1151.1 L157.7,1151.1"/>
<path d="M157.7,1681.5 L157.7,1703 M197.5,1681.5 L197.5,1693 M237.2,1681.5 L237.2,1703 M277.0,1681.5 L277.0,1693 M316.8,1681.5 L316.8,1703 M356.5,1681.5 L356.5,1693 M396.3,1681.5 L396.3,1703 M436.1,1681.5 L436.1,1693 M475.8,1681.5 L475.8,1703 M515.6,1681.5 L515.6,1693 M555.3,1681.5 L555.3,1703 M595.1,1681.5 L595.1,1693 M634.9,1681.5 L634.9,1703 M674.6,1681.5 L674.6,1693 M714.4,1681.5 L714.4,1703 M754.2,1681.5 L754.2,1693 M793.9,1681.5 L793.9,1703 M833.7,1681.5 L833.7,1693 M873.5,1681.5 L873.5,1703 M913.2,1681.5 L913.2,1693 M953.0,1681.5 L953.0,1703"/>
</g>
<g font-size="36" text-anchor="end">
<text id="by0" x="121" y="1693.2">0</text>
<text id="by50" x="125.5" y="1604.8">50</text>
<text id="by100" x="125.5" y="1516.4"><tspan class="h">1</tspan>00</text>
<text id="by150" x="125.5" y="1428.0"><tspan class="h">1</tspan>50</text>
<text id="by200" x="125.5" y="1339.6">200</text>
<text id="by250" x="125.5" y="1251.2">250</text>
<text id="by300" x="125.5" y="1162.8">300</text>
</g>
<g font-size="36" text-anchor="middle">
<text id="bx400" x="149.5" y="1741.5">400</text>
<text id="bx450" x="229.1" y="1741.5">450</text>
<text id="bx500" x="308.7" y="1741.5">500</text>
<text id="bx550" x="388.3" y="1741.5">550</text>
<text id="bx600" x="467.9" y="1741.5">600</text>
<text id="bx650" x="547.5" y="1741.5">650</text>
<text id="bx700" x="627.1" y="1741.5">700</text>
<text id="bx750" x="706.7" y="1741.5">750</text>
<text id="bx800" x="786.3" y="1741.5">800</text>
<text id="bx850" x="865.9" y="1741.5">850</text>
<text id="bx900" x="945.5" y="1741.5">900</text>
</g>
<text id="tInt" transform="translate(31,1408.5) rotate(-90)" font-size="41" text-anchor="middle">Intensity</text>
<text id="tmz" x="560" y="1800.3" font-size="42" font-style="italic" text-anchor="middle">m/z</text>
<path d="M160.5,1607.5 L161.4,1608.1 L162.4,1608.3 L163.3,1607.6 L164.3,1602.1 L165.2,1607.5 L166.2,1607.7 L167.1,1604.3 L168.1,1604.1 L169.0,1599.9 L170.0,1600.9 L170.9,1604.2 L171.9,1604.6 L172.8,1603.1 L173.8,1598.1 L174.7,1598.6 L175.7,1603.9 L177.1,1587.0 L178.0,1602.0 L178.5,1598.4 L179.5,1601.6 L180.4,1606.3 L181.4,1605.2 L182.3,1607.9 L183.3,1609.3 L184.2,1611.8 L185.2,1609.9 L186.1,1608.9 L187.1,1608.6 L188.0,1603.3 L189.0,1607.2 L189.9,1605.0 L190.9,1607.8 L191.8,1604.3 L192.8,1606.3 L193.6,1587.0 L194.5,1602.0 L195.6,1603.4 L196.6,1599.9 L197.5,1600.3 L198.5,1600.2 L199.4,1605.1 L200.4,1601.4 L201.3,1601.8 L202.3,1598.5 L203.3,1587.0 L204.2,1602.0 L205.1,1597.1 L206.1,1600.8 L207.0,1599.4 L208.0,1602.2 L208.9,1603.5 L209.9,1606.2 L210.8,1608.0 L211.8,1610.0 L212.7,1611.8 L213.7,1613.0 L214.6,1613.1 L215.6,1605.1 L216.5,1603.1 L217.5,1609.2 L218.4,1606.6 L219.4,1603.7 L220.3,1607.2 L221.3,1604.5 L222.2,1607.4 L223.2,1604.5 L224.1,1601.1 L225.1,1606.2 L226.0,1605.5 L227.0,1602.5 L227.9,1604.7 L228.9,1601.9 L229.8,1604.1 L230.8,1601.2 L231.7,1602.4 L232.7,1599.2 L233.6,1597.8 L234.6,1603.6 L235.5,1602.0 L236.5,1603.7 L237.4,1605.2 L238.4,1606.1 L239.3,1609.9 L240.3,1616.6 L241.2,1616.3 L242.2,1610.1 L243.1,1610.0 L244.1,1609.0 L245.0,1608.1 L246.0,1607.5 L246.9,1604.9 L247.9,1603.6 L248.8,1606.6 L249.8,1603.4 L250.7,1605.1 L251.7,1600.5 L252.6,1601.2 L253.6,1602.5 L254.5,1603.7 L255.5,1601.5 L256.4,1603.6 L257.4,1600.8 L258.3,1603.9 L259.3,1604.8 L260.2,1601.3 L261.2,1598.2 L262.1,1603.3 L263.1,1602.3 L264.0,1604.1 L265.0,1602.9 L265.9,1609.6 L266.9,1611.5 L267.8,1614.9 L268.8,1614.3 L269.7,1612.8 L270.7,1611.4 L271.6,1608.2 L272.6,1608.4 L273.5,1603.1 L274.5,1605.0 L275.4,1603.3 L276.4,1605.7 L277.3,1604.7 L278.3,1601.2 L279.2,1602.2 L280.2,1601.2 L281.1,1602.7 L282.2,1588.0 L283.1,1602.0 L284.0,1598.4 L284.9,1599.7 L285.9,1598.4 L286.8,1599.8 L287.8,1601.4 L288.7,1600.9 L289.7,1601.1 L290.6,1602.9 L291.6,1603.4 L292.5,1605.1 L293.5,1605.8 L294.4,1606.7 L295.4,1612.5 L296.3,1615.6 L297.3,1616.6 L298.2,1614.4 L299.2,1609.2 L300.1,1605.9 L301.1,1609.1 L302.0,1602.8 L303.0,1605.7 L303.9,1602.7 L304.9,1607.4 L305.8,1604.4 L306.8,1602.7 L307.7,1602.8 L308.7,1606.3 L309.6,1601.8 L310.6,1602.5 L311.6,1588.0 L312.5,1602.0 L313.4,1601.5 L314.4,1602.1 L315.3,1599.6 L316.3,1595.1 L317.2,1599.2 L318.2,1602.3 L319.1,1599.1 L320.1,1605.6 L321.0,1604.2 L322.0,1608.6 L322.9,1610.8 L323.9,1614.7 L324.8,1615.4 L325.8,1613.7 L326.7,1606.7 L327.7,1608.4 L328.6,1605.4 L329.6,1606.3 L330.5,1604.4 L331.5,1605.0 L332.4,1606.8 L333.4,1601.7 L334.6,1591.0 L335.5,1602.0 L336.2,1600.6 L337.2,1602.3 L338.1,1604.3 L339.1,1602.6 L340.0,1601.4 L341.0,1604.2 L341.9,1600.4 L342.9,1597.8 L343.8,1601.7 L344.8,1599.1 L345.7,1603.2 L346.7,1600.8 L347.6,1601.0 L348.6,1602.6 L349.5,1604.0 L350.5,1609.7 L351.4,1614.6 L352.4,1612.4 L353.3,1610.7 L354.3,1612.3 L355.2,1610.1 L356.2,1608.3 L357.1,1603.2 L358.1,1607.1 L359.0,1609.4 L360.0,1602.6 L360.9,1602.5 L361.9,1607.4 L362.8,1602.0 L363.8,1606.5 L364.7,1604.7 L365.7,1600.8 L366.6,1599.1 L367.6,1601.0 L368.5,1598.6 L369.5,1602.9 L370.4,1598.8 L371.4,1599.2 L372.4,1582.3 L373.3,1602.0 L374.2,1601.8 L375.2,1601.6 L376.1,1605.6 L377.1,1606.2 L378.0,1609.1 L379.0,1609.4 L379.9,1614.0 L380.9,1612.6 L381.8,1613.2 L382.8,1609.3 L383.7,1604.3 L384.7,1604.2 L385.6,1604.9 L386.6,1603.3 L387.3,1555.4 L388.2,1602.0 L389.4,1602.2 L390.4,1602.1 L391.3,1603.5 L392.3,1605.7 L393.2,1605.2 L394.2,1600.7 L395.1,1603.5 L396.1,1599.6 L397.0,1602.6 L398.0,1599.0 L398.9,1599.7 L399.9,1599.3 L400.8,1599.2 L401.8,1597.7 L402.7,1601.1 L403.7,1600.7 L404.6,1606.4 L405.6,1607.3 L406.5,1610.4 L407.5,1613.1 L408.4,1617.2 L409.4,1612.5 L410.3,1607.3 L411.3,1603.8 L412.2,1604.0 L413.2,1602.6 L414.1,1608.2 L415.1,1600.5 L416.0,1608.4 L417.0,1604.9 L417.9,1601.6 L418.9,1601.3 L419.8,1602.6 L420.8,1600.8 L421.7,1601.1 L422.7,1600.9 L423.6,1601.9 L425.0,1589.0 L425.9,1602.0 L426.5,1603.1 L427.4,1604.4 L428.4,1602.3 L429.6,1590.0 L430.5,1602.0 L431.2,1596.7 L432.2,1599.0 L433.1,1604.2 L434.1,1611.5 L435.0,1610.7 L436.0,1612.6 L436.9,1613.8 L437.9,1609.9 L438.8,1610.3 L439.8,1608.7 L440.7,1604.4 L441.7,1604.0 L442.6,1608.6 L443.6,1605.4 L444.5,1601.5 L445.5,1606.2 L446.4,1601.3 L447.4,1607.0 L448.3,1603.0 L449.3,1600.1 L450.2,1602.3 L451.2,1599.2 L452.1,1598.4 L453.1,1598.1 L454.0,1600.2 L455.0,1597.7 L455.9,1603.6 L456.9,1601.0 L457.8,1600.8 L458.8,1599.2 L459.7,1601.4 L460.7,1607.1 L461.6,1608.1 L462.6,1612.5 L463.5,1611.0 L464.5,1611.8 L465.4,1612.5 L466.4,1610.0 L467.4,1471.0 L468.2,1624.4 L469.2,1607.1 L470.2,1607.7 L471.1,1604.5 L472.1,1607.4 L473.0,1602.4 L474.0,1601.2 L474.9,1606.0 L475.9,1601.4 L476.8,1601.2 L477.8,1602.2 L478.7,1600.7 L479.7,1603.5 L480.6,1600.0 L481.6,1600.4 L482.5,1600.5 L483.5,1602.6 L484.4,1603.6 L485.4,1602.8 L486.3,1600.4 L487.3,1601.6 L488.2,1604.6 L489.2,1607.3 L490.1,1607.0 L491.1,1613.3 L492.0,1613.6 L493.0,1611.3 L493.9,1607.9 L494.9,1605.8 L495.8,1604.7 L496.8,1607.4 L497.7,1604.7 L498.7,1607.5 L499.6,1602.3 L500.6,1601.9 L501.5,1606.8 L502.5,1605.4 L503.4,1603.6 L504.4,1594.4 L505.3,1605.4 L506.3,1600.3 L507.2,1599.8 L508.2,1601.3 L509.1,1603.8 L510.1,1600.4 L511.0,1600.6 L512.0,1600.2 L512.9,1603.6 L513.9,1604.3 L514.8,1598.2 L515.8,1600.5 L516.7,1600.9 L517.7,1610.0 L518.6,1607.0 L519.6,1612.9 L520.5,1615.2 L521.5,1615.4 L522.4,1609.6 L523.4,1605.2 L524.3,1604.8 L525.3,1603.9 L526.2,1606.0 L527.2,1607.4 L528.1,1604.4 L529.1,1608.2 L530.0,1607.5 L531.0,1603.9 L531.9,1606.1 L532.9,1600.4 L533.8,1599.7 L534.4,1590.0 L535.3,1602.0 L535.7,1604.8 L536.7,1603.6 L537.6,1602.7 L538.6,1592.9 L539.5,1601.4 L540.5,1599.8 L541.4,1597.0 L542.4,1599.1 L543.3,1601.8 L544.3,1606.6 L545.2,1608.6 L546.2,1612.1 L547.1,1613.4 L548.1,1615.8 L549.0,1614.4 L550.0,1613.5 L550.9,1607.9 L551.3,1606.0 L552.5,1553.0 L553.9,1274.5 L554.6,1472.0 L555.3,1625.5 L556.2,1606.0 L557.0,1603.0 L557.6,1603.5 L558.5,1602.5 L559.5,1600.6 L560.4,1604.3 L561.4,1606.2 L562.3,1605.7 L563.3,1603.7 L564.2,1602.4 L565.2,1599.9 L566.1,1601.4 L567.1,1597.5 L568.0,1597.8 L569.0,1602.9 L569.9,1601.7 L570.9,1597.9 L571.8,1601.5 L572.8,1605.9 L573.7,1606.6 L574.7,1612.8 L575.6,1611.3 L576.6,1613.6 L577.5,1610.6 L578.5,1610.4 L579.3,1610.0 L580.6,1418.5 L581.4,1628.5 L582.3,1602.0 L583.5,1576.5 L584.2,1600.0 L585.0,1604.0 L586.1,1604.2 L587.0,1607.0 L588.0,1602.6 L588.9,1606.6 L589.9,1600.1 L590.8,1602.7 L591.8,1600.0 L592.7,1602.3 L593.7,1603.0 L594.6,1598.3 L595.6,1602.8 L596.5,1599.5 L597.5,1601.4 L598.4,1598.7 L599.4,1602.7 L600.4,1600.5 L601.3,1603.3 L602.3,1605.9 L603.2,1608.2 L604.2,1611.4 L605.1,1614.2 L606.1,1608.3 L607.0,1609.9 L608.0,1608.7 L608.9,1609.0 L609.9,1608.7 L610.8,1609.2 L611.8,1606.8 L612.7,1602.4 L613.7,1601.1 L614.6,1602.9 L615.6,1605.0 L616.5,1600.7 L617.5,1603.1 L618.4,1600.1 L619.4,1601.1 L620.3,1601.9 L621.3,1604.9 L622.2,1603.7 L623.2,1599.9 L624.1,1600.3 L625.1,1602.2 L626.0,1599.9 L627.0,1600.4 L627.9,1603.8 L628.9,1605.4 L629.8,1606.1 L630.8,1608.9 L631.7,1615.4 L632.6,1591.0 L633.5,1602.0 L634.6,1608.6 L635.5,1605.0 L636.5,1607.5 L637.4,1603.3 L638.4,1603.8 L639.3,1605.1 L640.3,1605.4 L641.2,1608.0 L642.2,1603.9 L643.1,1600.4 L644.1,1595.9 L645.0,1602.8 L646.0,1603.0 L646.9,1600.6 L647.9,1601.6 L648.8,1598.8 L649.8,1604.4 L650.7,1601.7 L651.7,1600.1 L652.6,1599.9 L653.6,1603.3 L654.5,1601.9 L655.5,1597.3 L656.4,1602.1 L657.4,1608.6 L658.3,1611.6 L659.3,1615.1 L660.2,1614.2 L661.2,1617.2 L662.1,1613.3 L663.1,1611.5 L664.0,1604.8 L665.0,1608.2 L665.9,1605.8 L666.9,1609.2 L667.8,1605.3 L668.8,1604.8 L669.7,1605.8 L670.7,1602.1 L671.6,1600.5 L672.6,1605.9 L673.5,1592.2 L674.5,1605.9 L675.4,1600.3 L676.4,1604.8 L677.3,1598.8 L678.3,1600.4 L679.2,1602.7 L680.2,1602.9 L681.1,1601.0 L682.1,1602.0 L683.0,1597.9 L684.0,1600.6 L684.9,1603.6 L685.9,1607.2 L686.8,1610.9 L687.8,1616.7 L688.7,1613.6 L689.7,1612.5 L690.6,1607.9 L691.6,1607.1 L692.5,1608.3 L693.5,1603.9 L694.4,1605.4 L695.4,1601.9 L696.3,1604.0 L697.3,1605.4 L698.2,1601.3 L699.2,1600.3 L700.1,1595.5 L701.1,1602.7 L701.9,1585.4 L702.8,1602.0 L703.9,1605.5 L704.9,1605.9 L705.8,1599.7 L706.8,1597.9 L707.7,1602.0 L708.7,1599.9 L709.6,1599.0 L710.6,1602.6 L711.5,1599.7 L712.5,1603.2 L713.4,1606.7 L714.4,1607.0 L715.3,1611.3 L716.3,1611.5 L717.2,1610.1 L718.2,1609.2 L719.1,1605.3 L720.1,1609.7 L721.0,1605.2 L722.0,1604.3 L722.9,1607.2 L723.9,1607.9 L724.8,1604.6 L725.8,1602.7 L726.7,1606.7 L727.7,1607.1 L728.6,1601.4 L729.6,1604.6 L730.5,1599.5 L731.5,1604.3 L732.4,1605.0 L733.4,1602.8 L734.3,1603.1 L735.3,1602.0 L736.2,1604.0 L736.8,1576.5 L737.7,1602.0 L738.1,1597.2 L739.1,1599.7 L740.0,1604.7 L741.0,1606.8 L741.9,1604.9 L742.9,1611.2 L743.8,1616.0 L744.8,1612.4 L745.7,1613.6 L746.7,1607.9 L747.6,1605.3 L748.6,1602.8 L749.5,1607.5 L750.5,1609.0 L751.4,1603.5 L752.4,1603.1 L753.3,1602.4 L754.3,1603.0 L755.2,1603.3 L756.5,1550.3 L757.4,1602.0 L758.1,1603.9 L759.0,1603.3 L760.0,1599.8 L760.9,1601.5 L761.9,1604.3 L762.8,1602.7 L763.8,1603.1 L764.7,1599.4 L765.7,1598.6 L766.6,1603.0 L767.6,1602.0 L768.5,1604.7 L769.5,1609.8 L770.4,1607.0 L771.4,1613.7 L772.3,1614.0 L773.3,1610.4 L774.2,1611.2 L775.2,1610.5 L775.8,1600.0 L776.4,1615.0 L778.3,1589.0 L778.9,1503.5 L779.5,1588.0 L781.0,1616.0 L781.8,1590.0 L782.6,1600.0 L783.5,1593.0 L784.4,1607.0 L785.3,1595.0 L786.2,1612.0 L787.5,1594.0 L788.4,1604.0 L789.2,1601.0 L790.4,1601.1 L791.3,1604.1 L792.3,1598.2 L793.2,1597.4 L794.2,1597.0 L795.1,1600.3 L796.4,1586.4 L797.3,1602.0 L798.0,1611.3 L798.9,1610.7 L799.9,1611.5 L800.8,1614.4 L801.8,1614.9 L802.7,1608.9 L803.7,1607.8 L804.6,1609.7 L805.6,1605.4 L806.5,1605.9 L807.5,1602.3 L808.4,1604.4 L809.4,1607.7 L810.3,1604.8 L811.3,1605.9 L812.2,1603.7 L813.2,1604.1 L814.1,1600.9 L815.1,1603.9 L815.8,1606.0 L816.8,1598.0 L817.7,1592.0 L819.2,1560.0 L819.9,1487.5 L820.6,1560.0 L822.2,1612.0 L823.0,1589.0 L824.0,1600.0 L825.0,1596.0 L826.0,1610.0 L826.8,1594.0 L827.6,1600.0 L828.6,1612.0 L829.6,1621.5 L830.6,1612.0 L831.3,1604.0 L832.2,1609.3 L833.1,1604.1 L834.1,1605.1 L835.0,1609.0 L836.0,1606.9 L836.9,1597.1 L837.9,1603.5 L838.8,1605.2 L839.8,1606.4 L840.7,1602.7 L841.7,1603.0 L842.6,1603.6 L843.6,1600.1 L844.5,1598.1 L845.5,1603.0 L846.4,1598.2 L847.4,1600.3 L848.3,1589.3 L849.2,1602.0 L850.2,1603.2 L851.2,1600.1 L852.1,1600.3 L853.1,1603.2 L854.0,1604.2 L855.0,1611.4 L855.9,1614.4 L856.9,1616.4 L857.8,1612.1 L858.8,1608.7 L859.7,1605.5 L860.7,1577.3 L861.6,1602.0 L862.6,1607.6 L863.5,1607.1 L864.5,1603.6 L865.4,1602.0 L866.4,1600.5 L867.3,1600.6 L868.3,1602.7 L869.2,1603.0 L870.2,1599.5 L871.1,1604.0 L872.1,1604.8 L873.0,1603.8 L874.0,1593.2 L874.9,1604.8 L875.9,1598.2 L876.8,1597.2 L877.8,1597.1 L878.3,1590.0 L879.2,1602.0 L879.7,1598.9 L880.6,1605.1 L881.6,1606.0 L882.5,1607.0 L883.5,1615.2 L884.4,1618.5 L885.4,1614.9 L886.3,1608.6 L887.3,1606.7 L888.2,1606.2 L889.2,1605.6 L890.1,1602.5 L891.1,1607.0 L892.0,1608.1 L893.0,1607.2 L893.9,1607.9 L894.9,1604.1 L895.8,1605.0 L896.8,1605.2 L897.7,1601.1 L898.7,1600.6 L899.6,1604.0 L900.6,1602.5 L901.5,1600.8 L902.5,1601.9 L903.4,1598.5 L904.4,1596.6 L905.3,1599.4 L906.3,1596.8 L906.9,1587.3 L907.8,1602.0 L909.1,1608.2 L910.1,1605.6 L911.0,1608.1 L912.0,1609.9 L912.9,1610.6 L913.9,1611.8 L914.8,1610.9 L915.8,1607.0 L916.7,1608.7 L917.7,1606.2 L918.6,1606.6 L919.6,1603.2 L920.5,1604.3 L921.5,1602.7 L922.4,1606.3 L923.4,1604.6 L924.3,1604.9 L925.3,1600.5 L926.2,1601.8 L927.2,1605.0 L928.1,1601.2 L929.1,1599.0 L930.0,1598.0 L931.0,1603.6 L931.9,1597.8 L932.9,1599.8 L933.8,1597.9 L934.8,1599.7 L935.7,1602.2 L936.7,1602.3 L937.6,1605.0 L938.6,1606.4 L939.5,1610.6 L940.5,1618.2 L941.4,1611.9 L942.4,1607.2 L943.3,1606.0 L944.3,1609.7 L945.2,1603.8 L946.2,1604.5 L947.1,1606.7 L948.1,1602.5 L949.0,1603.2 L950.0,1603.9 L950.9,1600.9 L951.9,1601.8 L952.8,1605.5" fill="none" stroke="#000" stroke-width="2.8" stroke-linejoin="round"/>
<g font-size="36">
<text id="a1" y="1206">
<tspan x="493.4">[</tspan><tspan x="503.8">M</tspan><tspan x="540.7">+</tspan><tspan x="569.1">H</tspan><tspan x="595.5">]</tspan><tspan x="606" font-size="21" dy="-14">+</tspan></text>
<text id="a2" x="554" y="1250.5" text-anchor="middle">649.4</text>
<text id="a3" y="1352.5">
<tspan x="559">[</tspan><tspan x="569.4">M</tspan><tspan x="608">+</tspan><tspan x="635.7">N</tspan><tspan x="662.6">H</tspan><tspan x="689" font-size="19" dy="11">4</tspan><tspan x="700.5" dy="-11">]</tspan><tspan x="711" font-size="21" dy="-14">+</tspan></text>
<text id="a4" x="642" y="1396.7" text-anchor="middle">666.3</text>
</g>
<path class="one" transform="translate(47.89,553.30) scale(0.017578,-0.017578)" vector-effect="non-scaling-stroke" d="M763,0 L583,0 L583,1147 Q518,1085 412,1023 Q306,961 223,930 L223,1104 Q372,1174 484,1274 Q596,1374 643,1468 L763,1468 Z"/>
<path class="one" transform="translate(47.89,684.70) scale(0.017578,-0.017578)" vector-effect="non-scaling-stroke" d="M763,0 L583,0 L583,1147 Q518,1085 412,1023 Q306,961 223,930 L223,1104 Q372,1174 484,1274 Q596,1374 643,1468 L763,1468 Z"/>
<path class="one" transform="translate(529.67,997.50) scale(0.017578,-0.017578)" vector-effect="non-scaling-stroke" d="M763,0 L583,0 L583,1147 Q518,1085 412,1023 Q306,961 223,930 L223,1104 Q372,1174 484,1274 Q596,1374 643,1468 L763,1468 Z"/>
<path class="one" transform="translate(728.37,997.50) scale(0.017578,-0.017578)" vector-effect="non-scaling-stroke" d="M763,0 L583,0 L583,1147 Q518,1085 412,1023 Q306,961 223,930 L223,1104 Q372,1174 484,1274 Q596,1374 643,1468 L763,1468 Z"/>
<path class="one" transform="translate(65.42,1516.40) scale(0.017578,-0.017578)" vector-effect="non-scaling-stroke" d="M763,0 L583,0 L583,1147 Q518,1085 412,1023 Q306,961 223,930 L223,1104 Q372,1174 484,1274 Q596,1374 643,1468 L763,1468 Z"/>
<path class="one" transform="translate(65.42,1428.00) scale(0.017578,-0.017578)" vector-effect="non-scaling-stroke" d="M763,0 L583,0 L583,1147 Q518,1085 412,1023 Q306,961 223,930 L223,1104 Q372,1174 484,1274 Q596,1374 643,1468 L763,1468 Z"/>
</svg>
</body></html>
